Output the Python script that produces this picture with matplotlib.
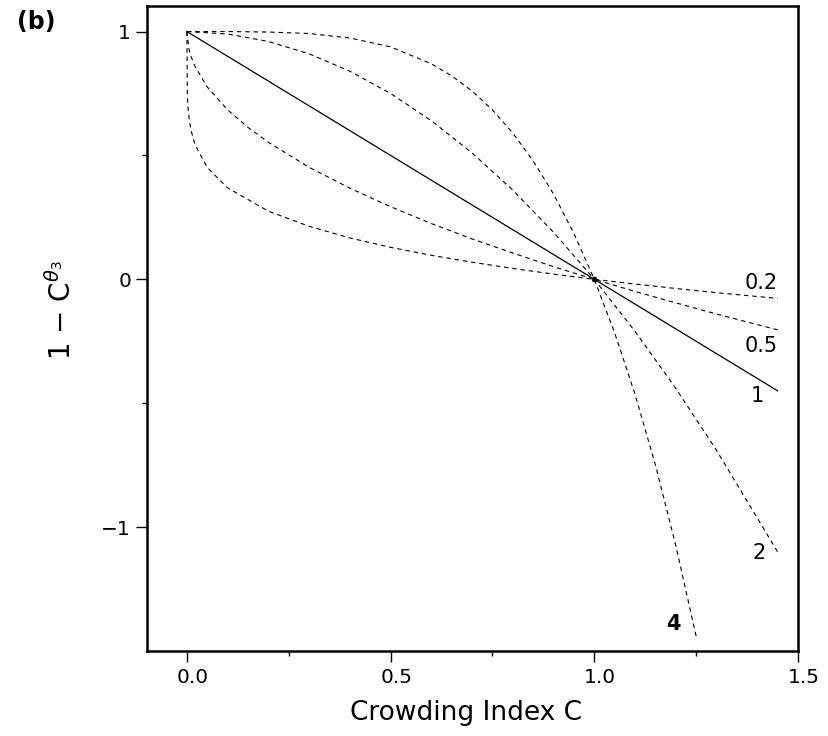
import matplotlib.pyplot as plt
import matplotlib.transforms as mtransforms

# Valores (C, 1 - C^theta) para cada theta
c_02 = [0.0, 0.001, 0.002, 0.003, 0.005, 0.01, 0.02, 0.05, 0.1, 0.2, 0.3, 0.4, 0.5,
        0.6, 0.7, 0.8, 0.9, 1.0, 1.1, 1.2, 1.3, 1.45]
y_02 = [1.0, 0.749, 0.711, 0.687, 0.654, 0.602, 0.543, 0.451, 0.369, 0.275, 0.214,
        0.167, 0.129, 0.097, 0.069, 0.044, 0.021, 0.0, -0.019, -0.037, -0.054, -0.077]

c_05 = [0.0, 0.005, 0.01, 0.02, 0.05, 0.1, 0.15, 0.2, 0.3, 0.4, 0.5, 0.6, 0.7, 0.8,
        0.9, 1.0, 1.1, 1.2, 1.3, 1.45]
y_05 = [1.0, 0.929, 0.900, 0.859, 0.776, 0.684, 0.613, 0.553, 0.452, 0.368, 0.293,
        0.225, 0.163, 0.106, 0.051, 0.0, -0.049, -0.095, -0.140, -0.204]

c_1 = [0.0, 0.5, 1.0, 1.45]
y_1 = [1.0, 0.5, 0.0, -0.45]

c_2 = [0.0, 0.1, 0.2, 0.3, 0.4, 0.5, 0.6, 0.7, 0.8, 0.9, 1.0, 1.1, 1.2, 1.3, 1.45]
y_2 = [1.0, 0.99, 0.96, 0.91, 0.84, 0.75, 0.64, 0.51, 0.36, 0.19, 0.0, -0.21,
       -0.44, -0.69, -1.10]

c_4 = [0.0, 0.1, 0.2, 0.3, 0.4, 0.5, 0.6, 0.65, 0.7, 0.75, 0.8, 0.85, 0.9, 0.95,
       1.0, 1.05, 1.1, 1.15, 1.2, 1.25]
y_4 = [1.0, 1.0, 0.998, 0.992, 0.974, 0.938, 0.870, 0.821, 0.760, 0.684, 0.590,
       0.478, 0.344, 0.185, 0.0, -0.216, -0.464, -0.749, -1.074, -1.441]

# Etiquetas das curvas e posicoes
curve_labels = ["0.2", "0.5", "1", "2", "4"]
label_x = [1.41, 1.41, 1.40, 1.405, 1.195]
label_y = [-0.015, -0.27, -0.47, -1.105, -1.39]

fig = plt.figure(figsize=(8.29, 7.36), dpi=100)
ax = fig.add_axes([0.1773, 0.1155, 0.7853, 0.877])

dash = (0, (4, 3.5))
ax.plot(c_02, y_02, color="black", lw=0.8, linestyle=dash)
ax.plot(c_05, y_05, color="black", lw=0.8, linestyle=dash)
ax.plot(c_1, y_1, color="black", lw=0.9, linestyle="-")
ax.plot(c_2, y_2, color="black", lw=0.8, linestyle=dash)
ax.plot(c_4, y_4, color="black", lw=0.8, linestyle=dash)
ax.plot([1.0], [0.0], marker="o", color="black", markersize=3)

for txt, lx, ly in zip(curve_labels, label_x, label_y):
    ax.text(lx, ly, txt, fontsize=15, ha="center", va="center",
            fontweight="bold" if txt == "4" else "normal")

ax.set_xlim(-0.098, 1.5)
ax.set_ylim(-1.5, 1.105)

ax.set_xticks([0.0, 0.5, 1.0, 1.5])
ax.set_xticklabels(["0.0", "0.5", "1.0", "1.5"])
ax.set_xticks([0.25, 0.75, 1.25], minor=True)
ax.set_yticks([-1, 0, 1])
ax.set_yticklabels(["\u22121", "0", "1"])
ax.set_yticks([-0.5, 0.5], minor=True)

ax.tick_params(which="major", direction="out", length=8, width=1, labelsize=14.5)
ax.tick_params(axis="x", which="major", pad=4.5)
ax.tick_params(axis="y", which="major", pad=3.5)
ax.tick_params(which="minor", direction="out", length=3.5, width=1)
for s in ax.spines.values():
    s.set_linewidth(1.8)

# deslocar um pouco os rotulos do eixo x para a direita
shift = mtransforms.ScaledTranslation(6 / 100, 0, fig.dpi_scale_trans)
for lab in ax.get_xticklabels():
    lab.set_transform(lab.get_transform() + shift)

ax.set_xlabel("Crowding Index C", fontsize=19)
ax.xaxis.set_label_coords(0.49, -0.076)
ax.set_ylabel("1 \u2212 C$^{\\theta_3}$", fontsize=20)
ax.yaxis.set_label_coords(-0.108, 0.528)

fig.text(0.044, 0.970, "(b)", fontsize=17, fontweight="bold", ha="center", va="center")

fig.savefig("out.png", dpi=100)
